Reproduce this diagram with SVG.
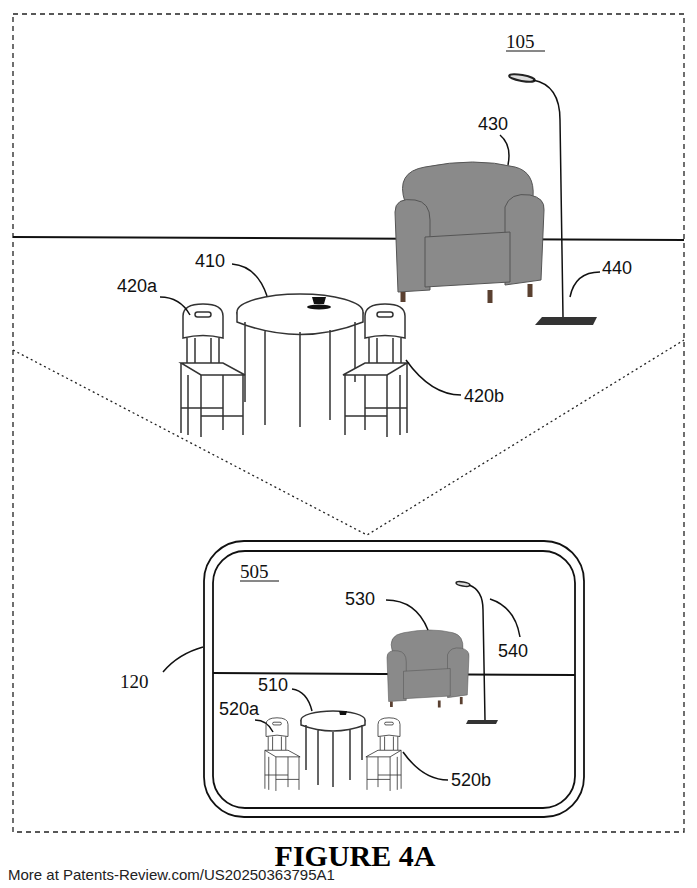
<svg xmlns="http://www.w3.org/2000/svg" width="697" height="888" viewBox="0 0 697 888">
<style>
.s{font-family:"Liberation Sans",Arial,sans-serif;font-size:18px;fill:#111}
.r{font-family:"Liberation Serif","Times New Roman",serif;font-size:19px;fill:#111}
.ln{fill:none;stroke:#111;stroke-width:1.5}
.ch{fill:#fff;stroke:#333;stroke-width:1.5}
.arm{fill:#8a8a8a;stroke:#555;stroke-width:1}
</style>
<defs>
<g id="chair">
<path class="ch" d="M0,8 q0,-12 20,-12 q20,0 20,12 l0,22 q-20,-5 -40,0z"/>
<rect class="ch" x="12" y="4" width="16" height="5" rx="2.5"/>
<path class="ch" d="M4,30 v25 M36,30 v25 M12,30 v25 M28,30 v25"/>
<path class="ch" d="M-2,55 l42,0 l22,12 l-44,0z"/>
<path class="ch" d="M-2,55 v70 M5,67 v60 M40,67 v55 M60,67 v60 M18,67 v62 M-2,100 h42 M18,108 h42"/>
</g>
<g id="armchair">
<path class="arm" d="M10,40 q-10,-30 20,-35 q50,-10 90,0 q20,5 18,30 l0,80 l-125,10z"/>
<path class="arm" d="M0,50 q0,-15 20,-12 q15,2 15,20 l0,70 l-32,2z" fill="#9a9a9a"/>
<path class="arm" d="M110,45 q5,-15 25,-12 q15,3 14,15 l-3,70 l-36,5z" fill="#9a9a9a"/>
<path class="arm" d="M30,75 l85,-5 l0,50 l-85,5z" fill="#7a7a7a"/>
<path d="M8,130 v10 M95,128 v13 M135,122 v13" stroke="#5a4030" stroke-width="5"/>
</g>
</defs>
<rect x="13" y="14" width="671" height="818" fill="none" stroke="#222" stroke-width="1.3" stroke-dasharray="5,4"/>
<line x1="13" y1="237" x2="684" y2="240" stroke="#111" stroke-width="2"/>
<polyline points="13,350 367,535 684,340" fill="none" stroke="#222" stroke-width="1.3" stroke-dasharray="2,3"/>
<g id="n105"><text class="r" x="506" y="48">105</text><line x1="506" y1="51" x2="545" y2="51" stroke="#111"/></g>
<g id="n430"><use href="#armchair" transform="translate(395,162)"/><text class="s" x="478" y="130">430</text><path class="ln" d="M500,135 q12,10 8,30"/></g>
<g id="n440"><ellipse cx="522" cy="78" rx="13" ry="3" fill="#ddd" stroke="#222" stroke-width="2" transform="rotate(10 522 78)"/><path class="ln" d="M533,80 q27,5 27,40 l3,197" stroke-width="2.5"/><path d="M535,325 l58,0 l4,-8 l-55,0z" fill="#333"/><text class="s" x="602" y="274">440</text><path class="ln" d="M600,272 q-25,0 -30,25"/></g>
<g id="n410"><ellipse cx="300" cy="312" rx="63" ry="18" class="ch"/><path class="ch" d="M237,312 v10 q63,25 126,0 v-10 M245,322 v80 M265,330 v95 M300,332 v95 M330,330 v90 M355,322 v60"/><path d="M312,297 h14 l-2,7 h-10z" fill="#111"/><ellipse cx="319" cy="307" rx="12" ry="2.5" fill="#111"/><text class="s" x="195" y="267">410</text><path class="ln" d="M232,264 q25,2 35,32"/></g>
<g id="n420a"><use href="#chair" transform="translate(183,308)"/><text class="s" x="117" y="292">420a</text><path class="ln" d="M160,297 q20,0 30,18"/></g>
<g id="n420b"><use href="#chair" transform="translate(405,308) scale(-1,1)"/><text class="s" x="464" y="402">420b</text><path class="ln" d="M461,395 q-30,0 -55,-35"/></g>
<rect x="204" y="541" width="380" height="276" rx="40" fill="none" stroke="#111" stroke-width="1.8"/>
<rect x="213" y="551" width="362" height="257" rx="32" fill="none" stroke="#111" stroke-width="1.8"/>
<line x1="213" y1="673" x2="575" y2="675" stroke="#111" stroke-width="2"/>
<g id="n505"><text class="r" x="240" y="578">505</text><line x1="240" y1="581" x2="279" y2="581" stroke="#111"/></g>
<g id="n530"><use href="#armchair" transform="translate(387,630) scale(0.55)"/><text class="s" x="345" y="605">530</text><path class="ln" d="M386,600 q30,0 42,30"/></g>
<g id="n540"><ellipse cx="463" cy="584" rx="7" ry="2" fill="#ddd" stroke="#222" stroke-width="1.5" transform="rotate(10 463 584)"/><path class="ln" d="M469,585 q14,5 14,25 l2,110" stroke-width="1.8"/><path d="M466,724 l30,0 l2,-4 l-30,0z" fill="#333"/><text class="s" x="498" y="657">540</text><path class="ln" d="M520,637 q-5,-30 -30,-38"/></g>
<g id="n510"><ellipse cx="333" cy="720" rx="32" ry="9" class="ch"/><path class="ch" d="M301,720 v5 q32,12 64,0 v-5 M306,725 v45 M318,730 v55 M333,732 v55 M350,730 v50 M362,725 v35"/><path d="M339,711 h8 l-1,4 h-6z" fill="#111"/><text class="s" x="258" y="691">510</text><path class="ln" d="M292,689 q15,2 20,22"/></g>
<g id="n520a"><use href="#chair" transform="translate(266,720) scale(0.55)"/><text class="s" x="219" y="715">520a</text><path class="ln" d="M255,720 q12,0 18,12"/></g>
<g id="n520b"><use href="#chair" transform="translate(400,720) scale(-0.55,0.55)"/><text class="s" x="451" y="786">520b</text><path class="ln" d="M448,780 q-25,0 -45,-28"/></g>
<g id="n120"><text class="r" x="120" y="688">120</text><path class="ln" d="M163,672 q15,-18 40,-25"/></g>
<text x="355" y="866" text-anchor="middle" style="font-family:'Liberation Serif',serif;font-weight:bold;font-size:30px">FIGURE 4A</text>
<text x="8" y="880" style="font-family:'Liberation Sans',Arial,sans-serif;font-size:15px;fill:#222">More at Patents-Review.com/US20250363795A1</text>
</svg>
